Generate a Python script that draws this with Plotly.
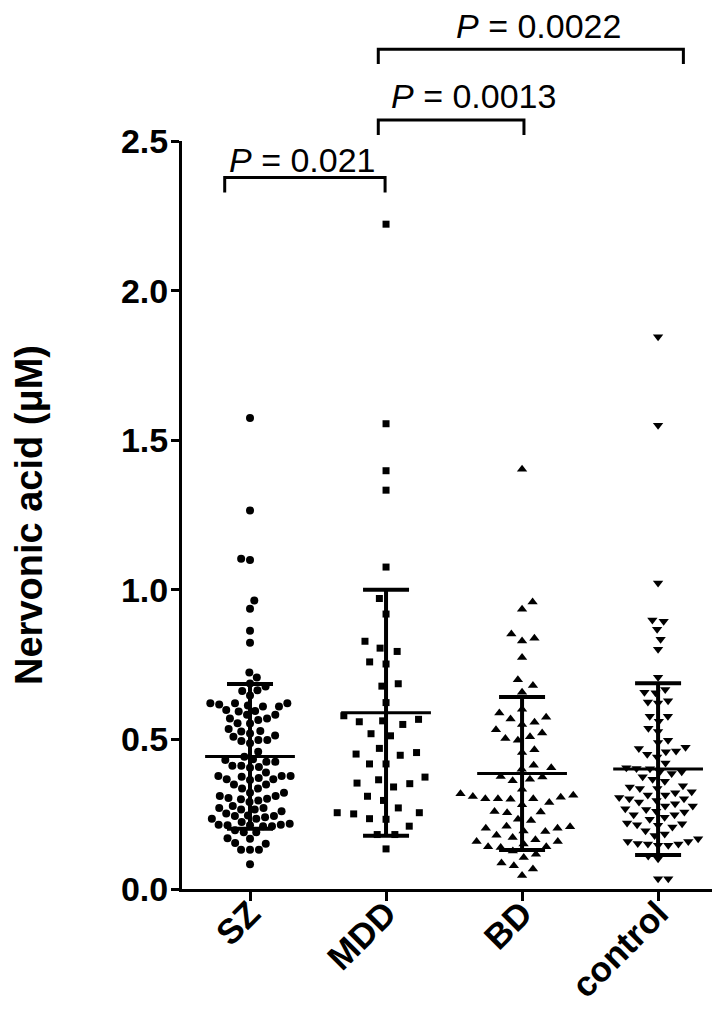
import numpy as np
import plotly.graph_objects as go

# ---------------- data ----------------
categories = ["SZ", "MDD", "BD", "control"]

sz_values = [1.574, 1.265, 1.104, 1.100,
             0.964, 0.937, 0.863, 0.823, 0.724, 0.707, 0.687, 0.677, 0.664, 0.662, 0.647, 0.621, 0.621,
             0.617, 0.613, 0.610, 0.595, 0.582, 0.570, 0.565, 0.570, 0.582, 0.593, 0.598, 0.610, 0.621,
             0.554, 0.535, 0.526, 0.513, 0.498, 0.495, 0.498, 0.509, 0.520, 0.528, 0.553, 0.487,
             0.459, 0.434, 0.425, 0.425, 0.431, 0.442,
             0.412, 0.405, 0.389, 0.378, 0.371, 0.367, 0.364, 0.367, 0.375, 0.378, 0.378, 0.408, 0.412,
             0.349, 0.336, 0.322, 0.311, 0.302, 0.296, 0.291, 0.300, 0.304, 0.311, 0.322, 0.336, 0.349,
             0.271, 0.277,
             0.266, 0.252, 0.244, 0.240, 0.235, 0.224, 0.218, 0.235, 0.244, 0.246, 0.260, 0.266, 0.271,
             0.213, 0.210, 0.190, 0.215, 0.213, 0.215, 0.210, 0.190, 0.196,
             0.154, 0.151, 0.170, 0.168,
             0.131, 0.131, 0.131,
             0.083]

mdd_values = [2.222, 1.555, 1.398, 1.333, 1.076,
              0.971, 0.919, 0.828, 0.794, 0.805, 0.752, 0.759, 0.686, 0.678, 0.623,
              0.567, 0.559, 0.579, 0.550, 0.562, 0.519, 0.512,
              0.456, 0.447, 0.451, 0.470, 0.418, 0.418,
              0.354, 0.341, 0.374, 0.365, 0.352, 0.296, 0.310,
              0.255, 0.251, 0.233, 0.235, 0.255, 0.271, 0.210, 0.182, 0.182, 0.134]

bd_values = [1.403, 0.959, 0.935, 0.852, 0.829, 0.838, 0.774, 0.699, 0.680, 0.658,
             0.588, 0.568, 0.550, 0.557, 0.574, 0.601, 0.532,
             0.521, 0.503, 0.497, 0.509, 0.465, 0.456,
             0.405, 0.400, 0.414, 0.374, 0.362, 0.367, 0.376,
             0.307, 0.302, 0.302, 0.289, 0.318, 0.333, 0.313, 0.282, 0.300, 0.302, 0.309,
             0.259, 0.255, 0.257, 0.233, 0.229,
             0.210, 0.203, 0.194, 0.172, 0.192, 0.203, 0.208, 0.180,
             0.159, 0.150, 0.141, 0.127, 0.116, 0.165, 0.139, 0.141, 0.159,
             0.105, 0.078, 0.067, 0.087, 0.045]

control_values = [1.846, 1.550, 1.023, 0.895, 0.899, 0.868, 0.835, 0.801, 0.708,
                  0.658, 0.629, 0.622, 0.625, 0.656, 0.667,
                  0.577, 0.561, 0.577, 0.537, 0.526, 0.497,
                  0.474, 0.461, 0.450, 0.421, 0.441, 0.459, 0.470, 0.490,
                  0.403, 0.392, 0.386, 0.375, 0.405, 0.392, 0.402,
                  0.367, 0.345, 0.336, 0.325, 0.314, 0.314, 0.322, 0.336, 0.341, 0.360,
                  0.302, 0.296, 0.285, 0.277, 0.266, 0.257, 0.248, 0.248, 0.260, 0.268, 0.277, 0.291, 0.302, 0.306,
                  0.240, 0.221, 0.213, 0.207, 0.184, 0.179, 0.195, 0.215, 0.218, 0.233,
                  0.159, 0.150, 0.146, 0.168, 0.159, 0.146, 0.150, 0.152,
                  0.110, 0.101, 0.034, 0.034]

group_means = [0.443, 0.589, 0.386, 0.401]
group_sds = [0.242, 0.411, 0.256, 0.287]

# significance comparisons: (group a, group b, p-value label)
comparisons = [(0, 1, "0.021"), (1, 2, "0.0013"), (1, 3, "0.0022")]

# ---------------- layout constants ----------------
W, H = 720, 1027
ML, MR, MT, MB = 158, 0, 133, 146
X_RANGE = [-0.5, 3.514]
Y_RANGE = [0, 2.5]
plot_w = W - ML - MR
plot_h = H - MT - MB
ppu_x = plot_w / (X_RANGE[1] - X_RANGE[0])
ppu_y = plot_h / (Y_RANGE[1] - Y_RANGE[0])

FONT = "Liberation Sans, Arial, sans-serif"

symbols = ["circle", "square", "triangle-up", "triangle-down"]
marker_sizes = [8, 7, 9, 9]
swarm_gap = [9.2, 17.0, 13.0, 10.5]   # collision spacing in px for the swarm layout


def swarm_offsets(vals, gap):
    """Classic beeswarm: place sorted points as close to the centre as possible."""
    vals = np.asarray(vals, dtype=float)
    ypx = vals * ppu_y
    order = np.argsort(vals, kind="stable")
    placed_x, placed_y = [], []
    offs = np.zeros(len(vals))
    flip = 1
    for idx in order:
        y = ypx[idx]
        cands = [0.0]
        for px, py in zip(placed_x, placed_y):
            dy = abs(py - y)
            if dy < gap:
                dx = np.sqrt(gap * gap - dy * dy)
                cands += [px + dx + 1e-6, px - dx - 1e-6]
        feasible = []
        for c in cands:
            ok = True
            for px, py in zip(placed_x, placed_y):
                if (px - c) ** 2 + (py - y) ** 2 < gap * gap - 1e-6:
                    ok = False
                    break
            if ok:
                feasible.append(c)
        feasible.sort(key=lambda c: (round(abs(c), 3), -flip * np.sign(c)))
        best = feasible[0]
        if best != 0:
            flip = -flip
        placed_x.append(best)
        placed_y.append(y)
        offs[idx] = best
    return offs / ppu_x


all_values = [sz_values, mdd_values, bd_values, control_values]

fig = go.Figure()

for i, vals in enumerate(all_values):
    xo = swarm_offsets(vals, swarm_gap[i])
    fig.add_trace(go.Scatter(
        x=i + xo, y=vals, mode="markers",
        marker=dict(symbol=symbols[i], size=marker_sizes[i], color="black",
                    line=dict(width=0)),
        name=categories[i], showlegend=False, hoverinfo="y"))

# mean lines
mean_half = 0.33
mx, my = [], []
for i, m in enumerate(group_means):
    mx += [i - mean_half, i + mean_half, None]
    my += [m, m, None]
fig.add_trace(go.Scatter(x=mx, y=my, mode="lines",
                         line=dict(color="black", width=3), showlegend=False,
                         hoverinfo="skip"))

# SD error bars
fig.add_trace(go.Scatter(
    x=list(range(len(categories))), y=group_means, mode="markers",
    marker=dict(size=1, color="rgba(0,0,0,0)"),
    error_y=dict(type="data", array=group_sds, visible=True, color="black",
                 thickness=4, width=23),
    showlegend=False, hoverinfo="skip"))

# significance brackets
bracket_y = [2.378, 2.570, 2.807]
bracket_drop = 0.05
bracket_ext = [(-0.186, 0.993), (0.943, 2.014), (0.943, 3.186)]
label_x = [0.386, 1.643, 2.12]
label_y = [2.437, 2.650, 2.885]
span = Y_RANGE[1] - Y_RANGE[0]
for k, (a, b, ptxt) in enumerate(comparisons):
    x0, x1 = bracket_ext[k]
    yt = (bracket_y[k] - Y_RANGE[0]) / span
    yb = (bracket_y[k] - bracket_drop - Y_RANGE[0]) / span
    fig.add_shape(type="path",
                  path=f"M {x0},{yb} L {x0},{yt} L {x1},{yt} L {x1},{yb}",
                  xref="x", yref="paper",
                  line=dict(color="black", width=3))
    fig.add_annotation(x=label_x[k], y=(label_y[k] - Y_RANGE[0]) / span,
                       xref="x", yref="paper", showarrow=False,
                       text=f"<i>P</i> = {ptxt}", xanchor="center", yanchor="middle",
                       font=dict(family=FONT, size=34, color="black"))

fig.update_layout(
    width=W, height=H,
    margin=dict(l=ML, r=MR, t=MT, b=MB),
    paper_bgcolor="white", plot_bgcolor="white",
    showlegend=False,
    font=dict(family=FONT, color="black"),
    xaxis=dict(range=X_RANGE, tickmode="array",
               tickvals=list(range(len(categories))), ticktext=categories,
               tickangle=-45, showline=True, linewidth=3, linecolor="black",
               ticks="outside", ticklen=9, tickwidth=3, tickcolor="black",
               ticklabelstandoff=-22,
               showgrid=False, zeroline=False,
               tickfont=dict(family=FONT, size=35, color="black", weight="bold")),
    yaxis=dict(range=Y_RANGE, tickmode="array",
               tickvals=[0, 0.5, 1.0, 1.5, 2.0, 2.5], tickformat=".1f",
               showline=True, linewidth=3, linecolor="black",
               ticks="outside", ticklen=8, tickwidth=3, tickcolor="black",
               ticklabelstandoff=-4,
               showgrid=False, zeroline=False,
               tickfont=dict(family=FONT, size=34, color="black", weight="bold"),
               title=dict(text="Nervonic acid (μM)", standoff=86,
                          font=dict(family=FONT, size=38, color="black", weight="bold"))),
)

fig.write_html("out.html")
